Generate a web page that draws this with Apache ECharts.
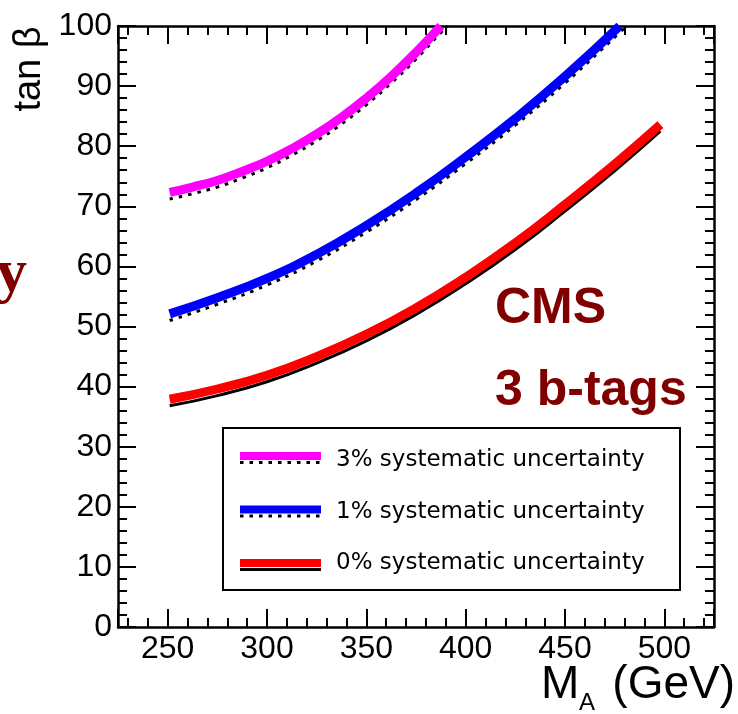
<!DOCTYPE html>
<html>
<head>
<meta charset="utf-8">
<script src="https://cdn.jsdelivr.net/npm/echarts@6/dist/echarts.min.js"></script>
<style>html,body{margin:0;padding:0;background:#fff}#c{width:738px;height:714px}</style>
</head>
<body>
<div id="c"></div>
<script>
// ---- data ----
const seriesNames = ['3% systematic uncertainty', '1% systematic uncertainty', '0% systematic uncertainty'];

const massPink = [251, 262.5, 275, 287.5, 300, 312.5, 325, 337.5, 350, 362.5, 375, 387.5];
const tanbPink = [72.3, 73.2, 74.3, 75.8, 77.5, 79.6, 82.0, 84.8, 88.0, 91.6, 95.6, 100.0];
const massPinkBlack = [251, 262.5, 275, 287.5, 300, 312.5, 325, 337.5, 350, 362.5, 375, 387.5, 391];
const tanbPinkBlack = [71.2, 72.1, 73.2, 74.7, 76.4, 78.5, 80.9, 83.7, 86.9, 90.5, 94.5, 98.9, 100.0];

const massBlue = [251, 275, 300, 325, 350, 375, 400, 425, 450, 477.5];
const tanbBlue = [52.1, 54.8, 58.0, 62.0, 66.8, 72.2, 78.2, 84.6, 91.6, 100.0];
const massBlueBlack = [251, 275, 300, 325, 350, 375, 400, 425, 450, 477.5, 481];
const tanbBlueBlack = [51.0, 53.7, 56.9, 60.9, 65.7, 71.1, 77.1, 83.5, 90.5, 98.9, 100.0];

const massRed = [251, 275, 300, 325, 350, 375, 400, 425, 450, 475, 498];
const tanbRed = [37.9, 39.6, 41.9, 45.0, 48.7, 53.1, 58.2, 63.9, 70.3, 77.0, 83.6];
const tanbRedBlack = [36.8, 38.5, 40.8, 43.9, 47.6, 52.0, 57.1, 62.8, 69.2, 75.9, 82.5];

const xMin = 225, xMax = 525;
const yMin = 0, yMax = 100, yStep = 10;

// ---- build ----
const pairs = (xs, ys) => xs.map((x, i) => [x, ys[i]]);
const SANS = 'Liberation Sans, Arial, Helvetica, sans-serif';
const DARKRED = '#800000';

function axisCommon() {
  return {
    type: 'value',
    axisLine: { show: true, onZero: false, lineStyle: { color: '#000', width: 2.5 } },
    axisTick: { show: true, inside: true, length: 18, lineStyle: { color: '#000', width: 2 } },
    minorTick: { show: true, splitNumber: 5, length: 9, lineStyle: { color: '#000', width: 2 } },
    splitLine: { show: false },
    minorSplitLine: { show: false }
  };
}

const xBottom = Object.assign(axisCommon(), {
  position: 'bottom', min: xMin, max: xMax, splitNumber: 6,
  axisLabel: { fontSize: 32, fontFamily: SANS, color: '#000', margin: 6,
    formatter: v => (v % 50 === 0 ? String(v) : '') }
});
const xTop = Object.assign(axisCommon(), {
  position: 'top', min: xMin, max: xMax, splitNumber: 6, axisLabel: { show: false }
});
const yLeft = Object.assign(axisCommon(), {
  position: 'left', min: yMin, max: yMax, interval: yStep,
  axisLabel: { fontSize: 32, fontFamily: SANS, color: '#000', margin: 6 }
});
const yRight = Object.assign(axisCommon(), {
  position: 'right', min: yMin, max: yMax, interval: yStep, axisLabel: { show: false }
});

function lineSeries(name, data, color, width, type, z) {
  return {
    name: name, type: 'line', data: data, xAxisIndex: 0, yAxisIndex: 0,
    showSymbol: false, symbol: 'none', smooth: true, z: z, silent: true,
    lineStyle: { color: color, width: width, type: type }
  };
}

const DOTS = [3.5, 6];
const series = [
  lineSeries('black3', pairs(massPinkBlack, tanbPinkBlack), '#000', 3, DOTS, 2),
  lineSeries('black1', pairs(massBlueBlack, tanbBlueBlack), '#000', 3, DOTS, 2),
  lineSeries('black0', pairs(massRed, tanbRedBlack), '#000', 3, 'solid', 2),
  lineSeries(seriesNames[0], pairs(massPink, tanbPink), '#ff00ff', 9, 'solid', 3),
  lineSeries(seriesNames[1], pairs(massBlue, tanbBlue), '#0000ff', 9, 'solid', 3),
  lineSeries(seriesNames[2], pairs(massRed, tanbRed), '#ff0000', 9, 'solid', 3)
];

// legend drawn as graphic elements
const legendColors = ['#ff00ff', '#0000ff', '#ff0000'];
const legendBlackType = [DOTS, DOTS, 'solid'];
const legendRowY = [456, 509.5, 563];
const legendTextY = [460.5, 512, 563.5];
const legendEls = [{
  type: 'rect', shape: { x: 223, y: 428, width: 457, height: 162 },
  style: { fill: '#fff', stroke: '#000', lineWidth: 2 }, z: 10
}];
seriesNames.forEach((n, i) => {
  legendEls.push({ type: 'line', shape: { x1: 240, y1: legendRowY[i] + 6.5, x2: 321, y2: legendRowY[i] + 6.5 },
    style: { stroke: '#000', lineWidth: 3, lineDash: legendBlackType[i] === 'solid' ? null : legendBlackType[i] }, z: 11 });
  legendEls.push({ type: 'line', shape: { x1: 240, y1: legendRowY[i], x2: 321, y2: legendRowY[i] },
    style: { stroke: legendColors[i], lineWidth: 8 }, z: 12 });
  legendEls.push({ type: 'text', x: 336, y: legendTextY[i],
    style: { text: n, fill: '#000', font: '23px "DejaVu Sans", sans-serif', align: 'left', verticalAlign: 'middle' }, z: 12 });
});

const option = {
  animation: false,
  backgroundColor: '#fff',
  grid: { left: 118, top: 26, width: 596, height: 601, containLabel: false },
  xAxis: [xBottom, xTop],
  yAxis: [yLeft, yRight],
  series: series,
  graphic: legendEls.concat([
    { type: 'text', x: 495, y: 309.5, style: { text: 'CMS', fill: DARKRED, font: 'bold 50px ' + SANS, align: 'left', verticalAlign: 'middle' }, z: 12 },
    { type: 'text', x: 495, y: 391.5, style: { text: '3 b-tags', fill: DARKRED, font: 'bold 50px ' + SANS, align: 'left', verticalAlign: 'middle' }, z: 12 },
    { type: 'text', x: 27, y: 275, style: { text: 'y', fill: DARKRED, font: 'bold 62px "Liberation Serif", "Times New Roman", serif', align: 'right', verticalAlign: 'middle' }, z: 12 },
    { type: 'text', x: 30, y: 69, rotation: Math.PI / 2, style: { text: 'tan β', fill: '#000', font: '38px ' + SANS, align: 'center', verticalAlign: 'middle' }, z: 12 },
    { type: 'text', x: 541, y: 685, style: { text: 'M', fill: '#000', font: '46px ' + SANS, align: 'left', verticalAlign: 'middle' }, z: 12 },
    { type: 'text', x: 579, y: 703, style: { text: 'A', fill: '#000', font: '24px ' + SANS, align: 'left', verticalAlign: 'middle' }, z: 12 },
    { type: 'text', x: 735, y: 685, style: { text: '(GeV)', fill: '#000', font: '46px ' + SANS, align: 'right', verticalAlign: 'middle' }, z: 12 }
  ])
};

const chart = echarts.init(document.getElementById('c'), null, { renderer: 'canvas' });
chart.setOption(option);
</script>
</body>
</html>
